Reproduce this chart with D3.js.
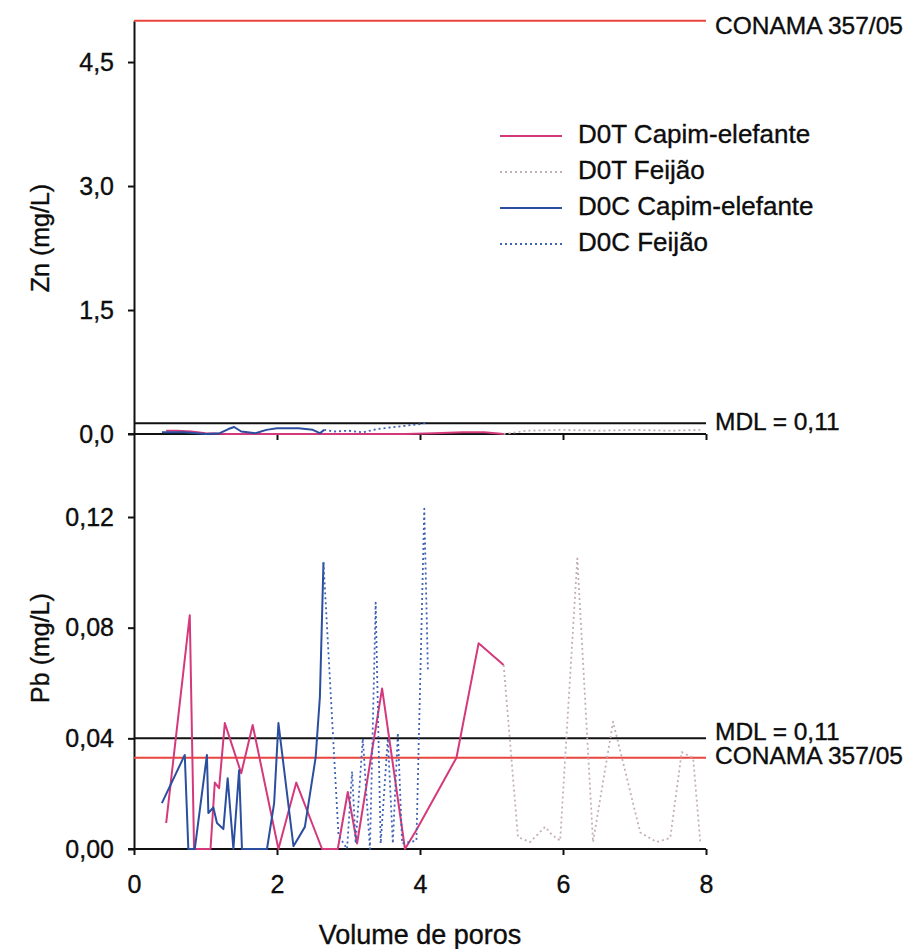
<!DOCTYPE html>
<html>
<head>
<meta charset="utf-8">
<script src="https://cdn.jsdelivr.net/npm/d3@7"></script>
<style>
  body { margin: 0; background: #fff; }
  svg text { font-family: "Liberation Sans", Arial, sans-serif; fill: #0d0d0d; stroke: #0d0d0d; stroke-width: 0.35px; }
</style>
</head>
<body>
<div id="chart"></div>
<script>
// series: [volume de poros, concentration]
var znD0TCapim = [[0.45,0.04],[0.6,0.04],[0.8,0.03],[1.0,0.01],[1.3,0.0],[2.0,0.0],[3.0,0.0],[3.8,0.0],[4.2,0.01],[4.6,0.02],[4.9,0.02],[5.17,0.0]];
var znD0TFeijao = [[5.17,0.0],[5.5,0.04],[6.0,0.05],[6.5,0.04],[7.0,0.05],[7.5,0.04],[7.92,0.05]];
var znD0CCapim = [[0.39,0.02],[0.7,0.02],[1.0,0.0],[1.2,0.01],[1.32,0.06],[1.4,0.085],[1.5,0.03],[1.7,0.01],[1.85,0.05],[2.0,0.07],[2.3,0.07],[2.5,0.05],[2.6,0.01],[2.66,0.05]];
var znD0CFeijao = [[2.66,0.05],[2.8,0.03],[3.0,0.04],[3.2,0.02],[3.4,0.06],[3.6,0.08],[3.8,0.1],[4.0,0.12],[4.11,0.14]];

var pbD0TCapim = [[0.45,0.0094],[0.78,0.0845],[0.84,0.0],[1.07,0.0],[1.13,0.024],[1.19,0.022],[1.27,0.0455],[1.5,0.0274],[1.66,0.0448],[2.02,0.0],[2.27,0.024],[2.63,0.0],[2.85,0.0],[2.99,0.0206],[3.12,0.002],[3.47,0.058],[3.79,0.0],[3.95,0.0069],[4.51,0.033],[4.82,0.0744],[5.17,0.0665]];
var pbD0TFeijao = [[5.17,0.0665],[5.37,0.0043],[5.54,0.0025],[5.75,0.008],[5.85,0.005],[5.96,0.003],[6.2,0.105],[6.42,0.0025],[6.7,0.046],[7.08,0.006],[7.31,0.0025],[7.5,0.004],[7.66,0.035],[7.82,0.033],[7.92,0.0025]];
var pbD0CCapim = [[0.39,0.0166],[0.71,0.034],[0.76,0.0],[0.85,0.0],[1.02,0.034],[1.04,0.013],[1.11,0.015],[1.16,0.0094],[1.25,0.0072],[1.31,0.0256],[1.39,0.0],[1.47,0.0285],[1.51,0.0],[1.86,0.0],[1.96,0.0166],[2.02,0.0455],[2.23,0.001],[2.39,0.008],[2.54,0.033],[2.6,0.055],[2.65,0.1036]];
var pbD0CFeijao = [[2.65,0.1036],[2.86,0.005],[2.98,0.0],[3.05,0.028],[3.1,0.002],[3.2,0.04],[3.3,0.0],[3.38,0.089],[3.45,0.002],[3.55,0.04],[3.62,0.002],[3.69,0.042],[3.75,0.002],[3.95,0.003],[4.06,0.123],[4.11,0.065]];

var znTicks = [0, 1.5, 3.0, 4.5];
var pbTicks = [0, 0.04, 0.08, 0.12];
var xTicks = [0, 2, 4, 6, 8];

var znConama = 5.0, znMdl = 0.13;
var pbConama = 0.033, pbMdl = 0.04;

var legendNames = ["D0T Capim-elefante", "D0T Feijão", "D0C Capim-elefante", "D0C Feijão"];

var W = 904, H = 949;
var pink = "#d4397c", grayDot = "#c4aebb", blue = "#2b4f9e", blueDot = "#3f62b4", red = "#e8463c";

var svg = d3.select("#chart").append("svg").attr("width", W).attr("height", H);

var x = d3.scaleLinear().domain([0, 8]).range([134, 706]);
var yZn = d3.scaleLinear().domain([0, 5]).range([434, 20.7]);
var yPb = d3.scaleLinear().domain([0, 0.15]).range([849, 434]);

function comma(d, digits) { return d.toFixed(digits).replace(".", ","); }

// axes
var gZnY = svg.append("g").attr("transform", "translate(134,0)")
  .call(d3.axisLeft(yZn).tickValues(znTicks).tickSize(6).tickSizeOuter(0).tickPadding(14)
    .tickFormat(function (d) { return comma(d, 1); }));
var gPbY = svg.append("g").attr("transform", "translate(134,0)")
  .call(d3.axisLeft(yPb).tickValues(pbTicks).tickSize(6).tickSizeOuter(0).tickPadding(14)
    .tickFormat(function (d) { return comma(d, 2); }));
var gZnX = svg.append("g").attr("transform", "translate(0,434)")
  .call(d3.axisBottom(x).tickValues([2, 4, 6, 8]).tickSize(6).tickSizeOuter(0).tickFormat(""));
var gPbX = svg.append("g").attr("transform", "translate(0,849)")
  .call(d3.axisBottom(x).tickValues(xTicks).tickSize(6).tickSizeOuter(0).tickPadding(20)
    .tickFormat(function (d) { return d; }));

[gZnY, gPbY, gZnX, gPbX].forEach(function (g) {
  g.selectAll("path.domain").attr("stroke", "#111").attr("stroke-width", 2);
  g.selectAll(".tick line").attr("stroke", "#111").attr("stroke-width", 2);
  g.selectAll("text").attr("font-size", 25).attr("fill", "#0d0d0d")
    .attr("font-family", "'Liberation Sans', Arial, sans-serif");
});
gZnX.select("path.domain").attr("d", "M128,0H706");
gPbX.select("path.domain").attr("d", "M128,0H706");

// reference lines
function refLine(yv, color, label, dy) {
  svg.append("line").attr("x1", x(0)).attr("x2", x(8)).attr("y1", yv).attr("y2", yv)
    .attr("stroke", color).attr("stroke-width", 2);
  svg.append("text").attr("x", 715).attr("y", yv + dy).attr("font-size", 24.5)
    .attr("dominant-baseline", "middle").text(label);
}
refLine(yZn(znConama), red, "CONAMA 357/05", 7);
refLine(yZn(znMdl), "#111", "MDL = 0,11", 0);
refLine(yPb(pbMdl), "#111", "MDL = 0,11", -5);
refLine(yPb(pbConama), red, "CONAMA 357/05", 0);

// series
var lineZn = d3.line().x(function (d) { return x(d[0]); }).y(function (d) { return yZn(d[1]); });
var linePb = d3.line().x(function (d) { return x(d[0]); }).y(function (d) { return yPb(d[1]); });

var styles = [
  { color: pink, dash: null, width: 2 },
  { color: grayDot, dash: "2,3", width: 1.8 },
  { color: blue, dash: null, width: 2 },
  { color: blueDot, dash: "2,3", width: 1.8 }
];

function draw(data, gen, st) {
  svg.append("path").datum(data).attr("d", gen).attr("fill", "none")
    .attr("stroke", st.color).attr("stroke-width", st.width)
    .attr("stroke-dasharray", st.dash).attr("stroke-linejoin", "round");
}
[znD0TCapim, znD0TFeijao, znD0CCapim, znD0CFeijao].forEach(function (s, i) { draw(s, lineZn, styles[i]); });
[pbD0TCapim, pbD0TFeijao, pbD0CCapim, pbD0CFeijao].forEach(function (s, i) { draw(s, linePb, styles[i]); });

// legend
var legend = svg.append("g");
legendNames.forEach(function (name, i) {
  var yy = 136 + i * 36;
  legend.append("line").attr("x1", 500).attr("x2", 562).attr("y1", yy).attr("y2", yy)
    .attr("stroke", styles[i].color).attr("stroke-width", styles[i].width)
    .attr("stroke-dasharray", styles[i].dash);
  legend.append("text").attr("x", 578).attr("y", yy).attr("font-size", 26)
    .attr("dominant-baseline", "middle").text(name);
});

// axis titles
svg.append("text").attr("transform", "translate(42,238) rotate(-90)")
  .attr("text-anchor", "middle").attr("dominant-baseline", "middle").attr("font-size", 25).text("Zn (mg/L)");
svg.append("text").attr("transform", "translate(42,648) rotate(-90)")
  .attr("text-anchor", "middle").attr("dominant-baseline", "middle").attr("font-size", 25).text("Pb (mg/L)");
svg.append("text").attr("x", 420).attr("y", 937).attr("text-anchor", "middle")
  .attr("dominant-baseline", "middle").attr("font-size", 27).text("Volume de poros");
</script>
</body>
</html>
